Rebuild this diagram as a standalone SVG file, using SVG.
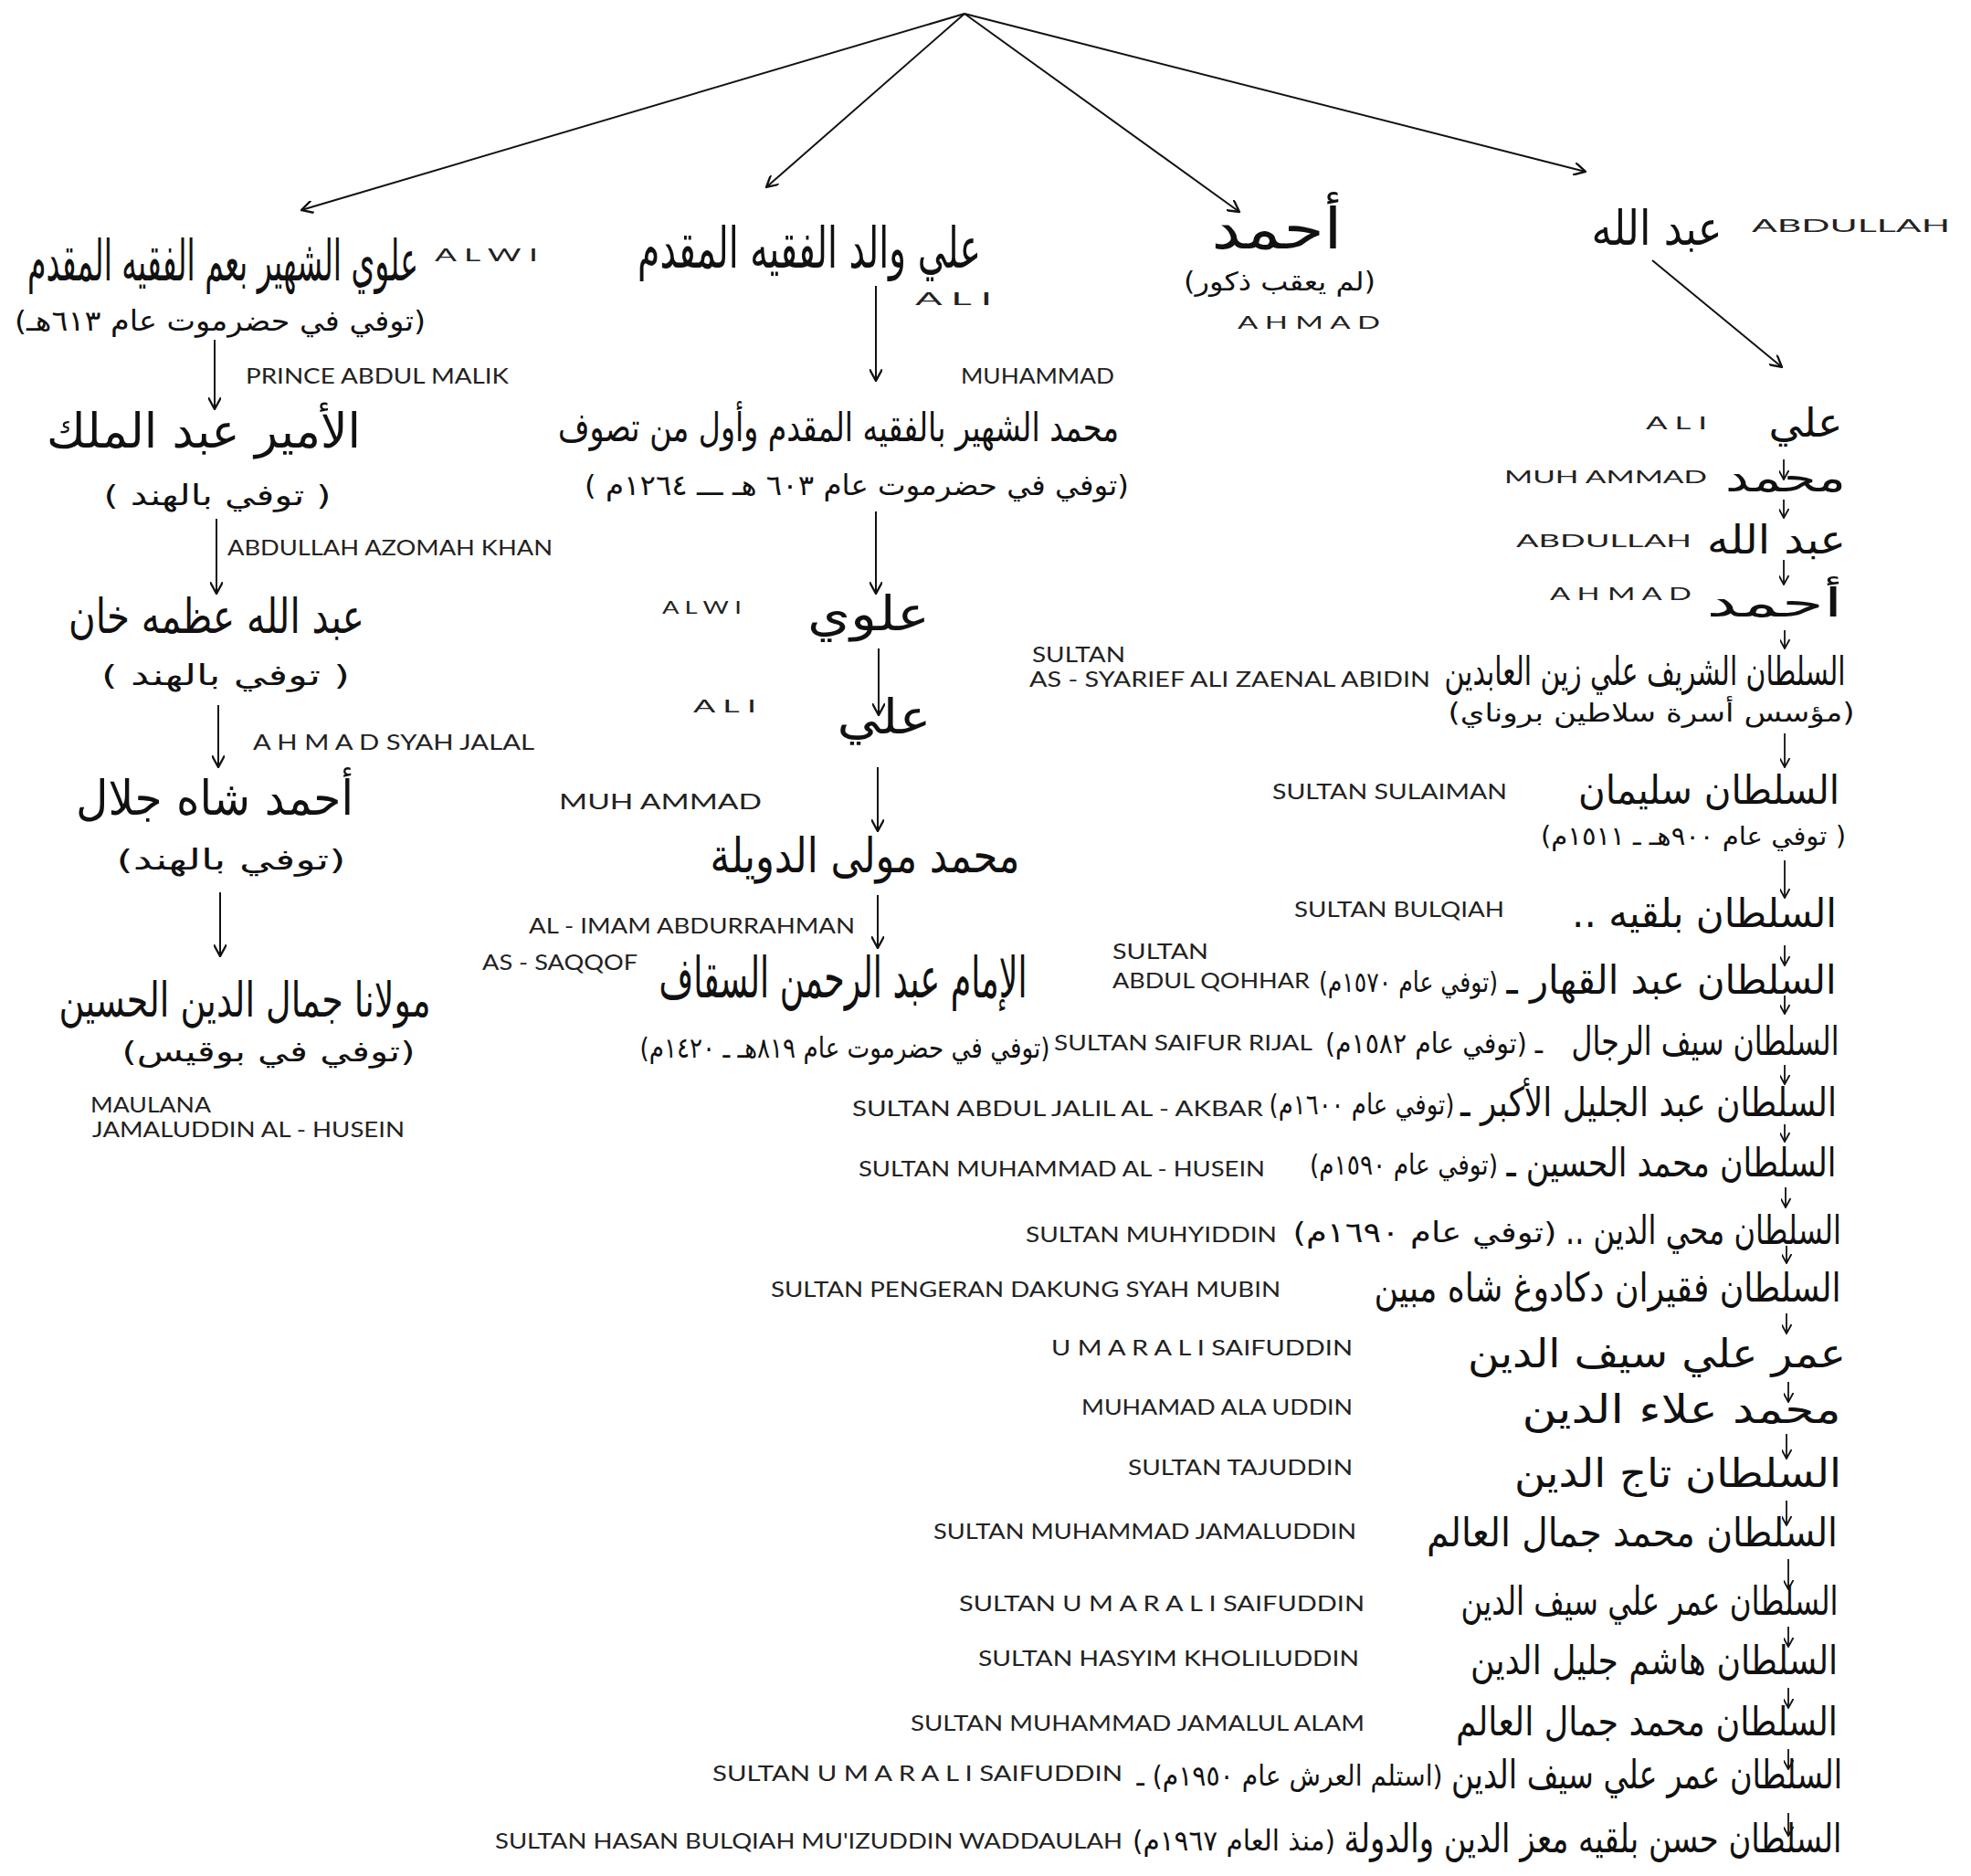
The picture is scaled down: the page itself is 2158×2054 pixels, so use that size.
<svg xmlns="http://www.w3.org/2000/svg" width="2158" height="2054" viewBox="0 0 2158 2054">
<defs>
<marker id="ah" viewBox="0 0 12 12" refX="11" refY="6" markerWidth="14" markerHeight="14" markerUnits="userSpaceOnUse" orient="auto">
<path d="M0,0 L11,6 L0,12" fill="none" stroke="#111" stroke-width="2"/>
</marker>
<marker id="ahs" viewBox="0 0 12 12" refX="11" refY="6" markerWidth="11" markerHeight="11" markerUnits="userSpaceOnUse" orient="auto">
<path d="M0,0 L11,6 L0,12" fill="none" stroke="#111" stroke-width="2"/>
</marker>
</defs>
<style>
.ar{font-family:"DejaVu Sans",sans-serif;direction:rtl;unicode-bidi:embed;text-anchor:middle;fill:#111}
.t1{font-size:62px}
.t2{font-size:52px}
.t4{font-size:44px}
.t3{font-size:31px}
.t5{font-size:28px}
.en{font-family:Lato,"Liberation Sans",sans-serif;font-size:23px;fill:#222}
.sp{font-size:20px}
.c{stroke:#111;stroke-width:2;fill:none;marker-end:url(#ah)}
.cs{stroke:#111;stroke-width:1.8;fill:none;marker-end:url(#ahs)}
</style>
<rect width="2158" height="2054" fill="#fff"/>

<g id="connectors">
<line class="c" x1="1056" y1="15" x2="330" y2="230"/>
<line class="c" x1="1056" y1="15" x2="839" y2="205"/>
<line class="c" x1="1056" y1="15" x2="1357" y2="232"/>
<line class="c" x1="1056" y1="15" x2="1736" y2="188"/>
<line class="c" x1="235" y1="372" x2="235" y2="448"/>
<line class="c" x1="237" y1="568" x2="237" y2="650"/>
<line class="c" x1="239" y1="772" x2="239" y2="840"/>
<line class="c" x1="241" y1="977" x2="241" y2="1047"/>
<line class="c" x1="959" y1="313" x2="959" y2="417"/>
<line class="c" x1="959" y1="560" x2="959" y2="650"/>
<line class="c" x1="962" y1="710" x2="962" y2="783"/>
<line class="c" x1="961" y1="840" x2="961" y2="910"/>
<line class="c" x1="961" y1="980" x2="961" y2="1038"/>
<line class="c" x1="1809" y1="285" x2="1951" y2="402"/>
<line class="cs" x1="1953" y1="503" x2="1953" y2="525"/>
<line class="cs" x1="1953" y1="547" x2="1953" y2="567"/>
<line class="cs" x1="1953" y1="613" x2="1953" y2="640"/>
<line class="cs" x1="1954" y1="690" x2="1954" y2="710"/>
<line class="cs" x1="1954" y1="803" x2="1954" y2="840"/>
<line class="cs" x1="1954" y1="942" x2="1954" y2="983"/>
<line class="cs" x1="1954" y1="1035" x2="1954" y2="1057"/>
<line class="cs" x1="1954" y1="1090" x2="1954" y2="1110"/>
<line class="cs" x1="1954" y1="1166" x2="1954" y2="1187"/>
<line class="cs" x1="1954" y1="1231" x2="1954" y2="1250"/>
<line class="cs" x1="1955" y1="1300" x2="1955" y2="1322"/>
<line class="cs" x1="1956" y1="1364" x2="1956" y2="1383"/>
<line class="cs" x1="1956" y1="1438" x2="1956" y2="1460"/>
<line class="cs" x1="1958" y1="1513" x2="1958" y2="1535"/>
<line class="cs" x1="1956" y1="1570" x2="1956" y2="1597"/>
<line class="cs" x1="1956" y1="1643" x2="1956" y2="1670"/>
<line class="cs" x1="1958" y1="1707" x2="1958" y2="1740"/>
<line class="cs" x1="1958" y1="1781" x2="1958" y2="1803"/>
<line class="cs" x1="1958" y1="1848" x2="1958" y2="1870"/>
<line class="cs" x1="1958" y1="1915" x2="1958" y2="1937"/>
<line class="cs" x1="1958" y1="1985" x2="1958" y2="2010"/>
</g>

<g id="alwi">
<text class="ar t1" x="244" y="307" textLength="428" lengthAdjust="spacingAndGlyphs">علوي الشهير بعم الفقيه المقدم</text>
<text class="ar t3" x="241" y="362" textLength="450" lengthAdjust="spacingAndGlyphs">(توفي في حضرموت عام ٦١٣هـ)</text>
<text class="en sp" x="476" y="286" textLength="113" lengthAdjust="spacingAndGlyphs">A L W I</text>
</g>
<g id="abdulmalik">
<text class="en" x="269" y="420" textLength="288" lengthAdjust="spacingAndGlyphs">PRINCE ABDUL MALIK</text>
<text class="ar t2" x="223" y="490" textLength="344" lengthAdjust="spacingAndGlyphs">الأمير عبد الملك</text>
<text class="ar t3" x="238" y="553" textLength="249" lengthAdjust="spacingAndGlyphs">( توفي بالهند )</text>
</g>
<g id="azomahkhan">
<text class="en" x="249" y="608" textLength="356" lengthAdjust="spacingAndGlyphs">ABDULLAH AZOMAH KHAN</text>
<text class="ar t2" x="237" y="693" textLength="324" lengthAdjust="spacingAndGlyphs">عبد الله عظمه خان</text>
<text class="ar t3" x="247" y="750" textLength="272" lengthAdjust="spacingAndGlyphs">( توفي بالهند )</text>
</g>
<g id="ahmadsyah">
<text class="en" x="277" y="821" textLength="308" lengthAdjust="spacingAndGlyphs">A H M A D  SYAH JALAL</text>
<text class="ar t2" x="235" y="892" textLength="304" lengthAdjust="spacingAndGlyphs">أحمد شاه جلال</text>
<text class="ar t3" x="253" y="952" textLength="251" lengthAdjust="spacingAndGlyphs">(توفي بالهند)</text>
</g>
<g id="maulana">
<text class="ar t2" x="268" y="1113" textLength="407" lengthAdjust="spacingAndGlyphs">مولانا جمال الدين الحسين</text>
<text class="ar t3" x="294" y="1162" textLength="321" lengthAdjust="spacingAndGlyphs">(توفي في بوقيس)</text>
<text class="en" x="99" y="1218" textLength="132" lengthAdjust="spacingAndGlyphs">MAULANA</text>
<text class="en" x="101" y="1245" textLength="342" lengthAdjust="spacingAndGlyphs">JAMALUDDIN AL - HUSEIN</text>
</g>

<g id="ali-walid">
<text class="ar t1" x="886" y="293" textLength="376" lengthAdjust="spacingAndGlyphs">علي والد الفقيه المقدم</text>
<text class="en sp" x="1002" y="334" textLength="84" lengthAdjust="spacingAndGlyphs">A L I</text>
</g>
<g id="muhammad-faqih">
<text class="en" x="1052" y="420" textLength="168" lengthAdjust="spacingAndGlyphs">MUHAMMAD</text>
<text class="ar t4" x="918" y="483" textLength="614" lengthAdjust="spacingAndGlyphs">محمد الشهير بالفقيه المقدم وأول من تصوف</text>
<text class="ar t3" x="938" y="542" textLength="596" lengthAdjust="spacingAndGlyphs">(توفي في حضرموت عام ٦٠٣ هـ ـــ ١٢٦٤م )</text>
</g>
<g id="alwi2">
<text class="en sp" x="725" y="672" textLength="87" lengthAdjust="spacingAndGlyphs">A L W I</text>
<text class="ar t2" x="951" y="690" textLength="134" lengthAdjust="spacingAndGlyphs">علوي</text>
</g>
<g id="ali2">
<text class="en sp" x="759" y="780" textLength="69" lengthAdjust="spacingAndGlyphs">A L I</text>
<text class="ar t2" x="968" y="803" textLength="103" lengthAdjust="spacingAndGlyphs">علي</text>
</g>
<g id="muhammad-mawla">
<text class="en" x="612" y="886" textLength="222" lengthAdjust="spacingAndGlyphs">MUH AMMAD</text>
<text class="ar t2" x="947" y="955" textLength="339" lengthAdjust="spacingAndGlyphs">محمد مولى الدويلة</text>
</g>
<g id="saqqaf">
<text class="en" x="579" y="1022" textLength="357" lengthAdjust="spacingAndGlyphs">AL - IMAM ABDURRAHMAN</text>
<text class="en" x="528" y="1062" textLength="170" lengthAdjust="spacingAndGlyphs">AS - SAQQOF</text>
<text class="ar t1" x="923" y="1092" textLength="403" lengthAdjust="spacingAndGlyphs">الإمام عبد الرحمن السقاف</text>
<text class="ar t3" x="925" y="1158" textLength="449" lengthAdjust="spacingAndGlyphs">(توفي في حضرموت عام ٨١٩هـ ـ ١٤٢٠م)</text>
</g>

<g id="ahmad">
<text class="ar t1" x="1398" y="272" textLength="143" lengthAdjust="spacingAndGlyphs">أحمد</text>
<text class="ar t5" x="1401" y="318" textLength="210" lengthAdjust="spacingAndGlyphs">(لم يعقب ذكور)</text>
<text class="en sp" x="1355" y="360" textLength="156" lengthAdjust="spacingAndGlyphs">A H M A D</text>
</g>

<g id="abdullah">
<text class="ar t2" x="1814" y="268" textLength="143" lengthAdjust="spacingAndGlyphs">عبد الله</text>
<text class="en sp" x="1918" y="254" textLength="217" lengthAdjust="spacingAndGlyphs">ABDULLAH</text>
</g>
<g id="r-ali">
<text class="en sp" x="1802" y="470" textLength="67" lengthAdjust="spacingAndGlyphs">A L I</text>
<text class="ar t4" x="1977" y="478" textLength="81" lengthAdjust="spacingAndGlyphs">علي</text>
</g>
<g id="r-muhammad">
<text class="en sp" x="1647" y="529" textLength="222" lengthAdjust="spacingAndGlyphs">MUH AMMAD</text>
<text class="ar t4" x="1955" y="538" textLength="132" lengthAdjust="spacingAndGlyphs">محمد</text>
</g>
<g id="r-abdullah">
<text class="en sp" x="1660" y="599" textLength="192" lengthAdjust="spacingAndGlyphs">ABDULLAH</text>
<text class="ar t4" x="1945" y="606" textLength="152" lengthAdjust="spacingAndGlyphs">عبد الله</text>
</g>
<g id="r-ahmad">
<text class="en sp" x="1697" y="657" textLength="155" lengthAdjust="spacingAndGlyphs">A H M A D</text>
<text class="ar t4" x="1943" y="675" textLength="149" lengthAdjust="spacingAndGlyphs">أحمد</text>
</g>
<g id="s-zaenal">
<text class="en" x="1130" y="725" textLength="102" lengthAdjust="spacingAndGlyphs">SULTAN</text>
<text class="en" x="1127" y="752" textLength="439" lengthAdjust="spacingAndGlyphs">AS - SYARIEF ALI ZAENAL ABIDIN</text>
<text class="ar t4" x="1801" y="750" textLength="439" lengthAdjust="spacingAndGlyphs">السلطان الشريف علي زين العابدين</text>
<text class="ar t5" x="1808" y="790" textLength="445" lengthAdjust="spacingAndGlyphs">(مؤسس أسرة سلاطين بروناي)</text>
</g>
<g id="s-sulaiman">
<text class="en" x="1393" y="875" textLength="257" lengthAdjust="spacingAndGlyphs">SULTAN  SULAIMAN</text>
<text class="ar t4" x="1871" y="880" textLength="286" lengthAdjust="spacingAndGlyphs">السلطان سليمان</text>
<text class="ar t5" x="1854" y="925" textLength="334" lengthAdjust="spacingAndGlyphs">( توفي عام ٩٠٠هـ ـ ١٥١١م)</text>
</g>
<g id="s-bulqiah">
<text class="en" x="1417" y="1004" textLength="230" lengthAdjust="spacingAndGlyphs">SULTAN BULQIAH</text>
<text class="ar t4" x="1866" y="1015" textLength="290" lengthAdjust="spacingAndGlyphs">السلطان بلقيه ..</text>
</g>
<g id="s-qohhar">
<text class="en" x="1218" y="1050" textLength="105" lengthAdjust="spacingAndGlyphs">SULTAN</text>
<text class="en" x="1218" y="1082" textLength="216" lengthAdjust="spacingAndGlyphs">ABDUL QOHHAR</text>
<text class="ar t4" x="1830" y="1088" textLength="361" lengthAdjust="spacingAndGlyphs">السلطان عبد القهار ـ</text>
<text class="ar t3" x="1542" y="1086" textLength="196" lengthAdjust="spacingAndGlyphs">(توفي عام ١٥٧٠م)</text>
</g>
<g id="s-rijal">
<text class="en" x="1154" y="1150" textLength="283" lengthAdjust="spacingAndGlyphs">SULTAN SAIFUR RIJAL</text>
<text class="ar t3" x="1570" y="1153" textLength="238" lengthAdjust="spacingAndGlyphs">ـ   (توفي عام ١٥٨٢م)</text>
<text class="ar t4" x="1867" y="1155" textLength="293" lengthAdjust="spacingAndGlyphs">السلطان سيف الرجال</text>
</g>
<g id="s-jalil">
<text class="en" x="933" y="1222" textLength="450" lengthAdjust="spacingAndGlyphs">SULTAN ABDUL JALIL AL - AKBAR</text>
<text class="ar t3" x="1491" y="1220" textLength="203" lengthAdjust="spacingAndGlyphs">(توفي عام ١٦٠٠م)</text>
<text class="ar t4" x="1805" y="1222" textLength="412" lengthAdjust="spacingAndGlyphs">السلطان عبد الجليل الأكبر ـ</text>
</g>
<g id="s-husein">
<text class="en" x="940" y="1288" textLength="445" lengthAdjust="spacingAndGlyphs">SULTAN MUHAMMAD AL - HUSEIN</text>
<text class="ar t3" x="1537" y="1286" textLength="206" lengthAdjust="spacingAndGlyphs">(توفي عام ١٥٩٠م)</text>
<text class="ar t4" x="1830" y="1288" textLength="361" lengthAdjust="spacingAndGlyphs">السلطان محمد الحسين ـ</text>
</g>
<g id="s-muhyiddin">
<text class="en" x="1123" y="1360" textLength="275" lengthAdjust="spacingAndGlyphs">SULTAN  MUHYIDDIN</text>
<text class="ar t3" x="1560" y="1360" textLength="289" lengthAdjust="spacingAndGlyphs">(توفي عام ١٦٩٠م)</text>
<text class="ar t4" x="1865" y="1362" textLength="302" lengthAdjust="spacingAndGlyphs">السلطان محي الدين ..</text>
</g>
<g id="s-pengeran">
<text class="en" x="844" y="1420" textLength="558" lengthAdjust="spacingAndGlyphs">SULTAN PENGERAN DAKUNG SYAH MUBIN</text>
<text class="ar t4" x="1760" y="1425" textLength="511" lengthAdjust="spacingAndGlyphs">السلطان فقيران دكادوغ شاه مبين</text>
</g>
<g id="s-umar1">
<text class="en" x="1151" y="1484" textLength="330" lengthAdjust="spacingAndGlyphs">U M A R  A L I  SAIFUDDIN</text>
<text class="ar t4" x="1814" y="1497" textLength="414" lengthAdjust="spacingAndGlyphs">عمر علي سيف الدين</text>
</g>
<g id="s-alauddin">
<text class="en" x="1184" y="1549" textLength="297" lengthAdjust="spacingAndGlyphs">MUHAMAD ALA UDDIN</text>
<text class="ar t4" x="1841" y="1558" textLength="349" lengthAdjust="spacingAndGlyphs">محمد علاء الدين</text>
</g>
<g id="s-tajuddin">
<text class="en" x="1235" y="1615" textLength="246" lengthAdjust="spacingAndGlyphs">SULTAN TAJUDDIN</text>
<text class="ar t4" x="1837" y="1628" textLength="358" lengthAdjust="spacingAndGlyphs">السلطان تاج الدين</text>
</g>
<g id="s-jamaluddin">
<text class="en" x="1022" y="1685" textLength="463" lengthAdjust="spacingAndGlyphs">SULTAN MUHAMMAD JAMALUDDIN</text>
<text class="ar t4" x="1787" y="1693" textLength="450" lengthAdjust="spacingAndGlyphs">السلطان محمد جمال العالم</text>
</g>
<g id="s-umar2">
<text class="en" x="1050" y="1764" textLength="444" lengthAdjust="spacingAndGlyphs">SULTAN U M A R  A L I  SAIFUDDIN</text>
<text class="ar t4" x="1806" y="1768" textLength="413" lengthAdjust="spacingAndGlyphs">السلطان عمر علي سيف الدين</text>
</g>
<g id="s-hasyim">
<text class="en" x="1071" y="1824" textLength="417" lengthAdjust="spacingAndGlyphs">SULTAN  HASYIM KHOLILUDDIN</text>
<text class="ar t4" x="1811" y="1833" textLength="402" lengthAdjust="spacingAndGlyphs">السلطان هاشم جليل الدين</text>
</g>
<g id="s-jamalulalam">
<text class="en" x="997" y="1895" textLength="497" lengthAdjust="spacingAndGlyphs">SULTAN MUHAMMAD JAMALUL ALAM</text>
<text class="ar t4" x="1803" y="1900" textLength="418" lengthAdjust="spacingAndGlyphs">السلطان محمد جمال العالم</text>
</g>
<g id="s-umar3">
<text class="en" x="780" y="1950" textLength="449" lengthAdjust="spacingAndGlyphs">SULTAN U M A R  A L I  SAIFUDDIN</text>
<text class="ar t3" x="1412" y="1955" textLength="335" lengthAdjust="spacingAndGlyphs">(استلم العرش عام ١٩٥٠م) ـ</text>
<text class="ar t4" x="1803" y="1958" textLength="428" lengthAdjust="spacingAndGlyphs">السلطان عمر علي سيف الدين</text>
</g>
<g id="s-hasan">
<text class="en" x="542" y="2024" textLength="687" lengthAdjust="spacingAndGlyphs">SULTAN HASAN BULQIAH MU'IZUDDIN WADDAULAH</text>
<text class="ar t3" x="1351" y="2026" textLength="222" lengthAdjust="spacingAndGlyphs">(منذ العام ١٩٦٧م)</text>
<text class="ar t4" x="1744" y="2028" textLength="545" lengthAdjust="spacingAndGlyphs">السلطان حسن بلقيه معز الدين والدولة</text>
</g>
</svg>
